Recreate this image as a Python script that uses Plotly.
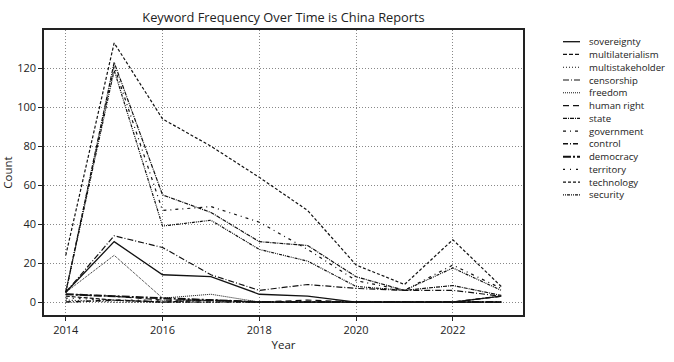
import plotly.graph_objects as go

years = [2014, 2015, 2016, 2017, 2018, 2019, 2020, 2021, 2022, 2023]

sovereignty = [5, 31, 14, 13, 4, 3, 0, 0, 0, 3]
multilaterialism = [3, 1, 0, 1, 0, 0, 0, 0, 0, 0]
multistakeholder = [1, 0, 0, 0, 0, 0, 0, 0, 0, 0]
censorship = [5, 34, 28, 14, 6, 9, 7, 6, 6, 3]
freedom = [5, 24, 2, 4, 0, 0, 0, 0, 0, 0]
human_right = [4, 3, 1, 1, 0, 1, 0, 0, 0, 0]
state = [5, 123, 55, 46, 31, 29, 13, 6, 8.5, 3.4]
government = [5, 121, 47, 49, 41, 27, 11, 6, 19, 7]
control = [0, 1, 0, 0, 0, 0, 0, 0, 0, 3]
democracy = [4, 3, 2, 1, 0, 0, 0, 0, 0, 0]
territory = [2, 1, 1, 1, 0, 0, 0, 0, 0, 0]
technology = [24, 133, 94, 80, 64, 47, 19, 9, 32, 8]
security = [5, 119, 39, 42, 27, 21, 8, 6, 17.5, 6]

series_names = ["sovereignty", "multilaterialism", "multistakeholder", "censorship",
                "freedom", "human right", "state", "government", "control",
                "democracy", "territory", "technology", "security"]
series_values = [sovereignty, multilaterialism, multistakeholder, censorship,
                 freedom, human_right, state, government, control,
                 democracy, territory, technology, security]

styles = [
    ("solid", 1.3),
    ("4px,2px", 1.2),
    ("1px,2px", 1.2),
    ("6px,2px,1px,2px", 1.2),
    ("1px,1px", 1.0),
    ("6px,4px", 1.2),
    ("4px,1px,1px,1px", 1.2),
    ("3px,4px,1px,4px", 1.2),
    ("5px,2px,1px,2px", 1.5),
    ("8px,2px,2px,2px", 2.0),
    ("2px,5px,1px,5px", 1.2),
    ("3px,2px", 1.2),
    ("1px,1px,1px,1px,3px,1px", 1.2),
]

LINE_COLOR = "#111111"
FONT = "Open Sans"
W, H = 674, 362
L, R, T, B = 44, 151, 30, 47
PW, PH = W - L - R, H - T - B

fig = go.Figure()
for name, vals, (dash, w) in zip(series_names, series_values, styles):
    fig.add_trace(go.Scatter(x=years, y=vals, mode="lines", name=name, showlegend=False,
                             line=dict(color=LINE_COLOR, width=w, dash=dash)))

# compact legend (matplotlib-like spacing), built from the series list
def px_x(p):
    return (p - L) / PW

def px_y(p):
    return (H - B - p) / PH

shapes, annots = [], []
for i, (name, (dash, w)) in enumerate(zip(series_names, styles)):
    yy = 41.7 + i * 12.77
    shapes.append(dict(type="line", xref="paper", yref="paper",
                       x0=px_x(563), x1=px_x(580), y0=px_y(yy), y1=px_y(yy),
                       line=dict(color=LINE_COLOR, width=w, dash=dash)))
    annots.append(dict(text=name, xref="paper", yref="paper", x=px_x(588), y=px_y(yy),
                       xanchor="left", yanchor="middle", showarrow=False, borderpad=0,
                       font=dict(size=9.6, family=FONT, color="#222222")))

fig.update_layout(
    width=W, height=H,
    margin=dict(l=L, r=R, t=T, b=B, autoexpand=False),
    paper_bgcolor="white", plot_bgcolor="white",
    font=dict(family=FONT, size=11, color="#222222"),
    title=dict(text="Keyword Frequency Over Time is China Reports",
               x=(L + W - R) / 2 / W, xanchor="center", y=1 - 18 / H, yanchor="middle",
               font=dict(size=12.8, family=FONT, color="#222222")),
    showlegend=False,
    shapes=shapes, annotations=annots,
)
fig.update_xaxes(
    range=[2013.55, 2023.45], tickmode="array", tickvals=[2014, 2016, 2018, 2020, 2022],
    ticks="outside", ticklen=4, tickcolor="#222", showline=True, linecolor="#222",
    linewidth=1.5, mirror=True, showgrid=True, gridcolor="#888", griddash="1px,2px",
    gridwidth=1, zeroline=False, automargin=False,
    title=dict(text="Year", font=dict(size=11.5), standoff=4),
    tickfont=dict(size=11),
)
fig.update_yaxes(
    range=[-6.65, 139.65], tickmode="array", tickvals=[0, 20, 40, 60, 80, 100, 120],
    ticks="outside", ticklen=4, tickcolor="#222", showline=True, linecolor="#222",
    linewidth=1.5, mirror=True, showgrid=True, gridcolor="#888", griddash="1px,2px",
    gridwidth=1, zeroline=False, automargin=False,
    title=dict(text="Count", font=dict(size=11.5), standoff=3),
    tickfont=dict(size=11),
)

fig.write_html("out.html", config={"displayModeBar": False},
               post_script="document.body.style.margin='0';")
